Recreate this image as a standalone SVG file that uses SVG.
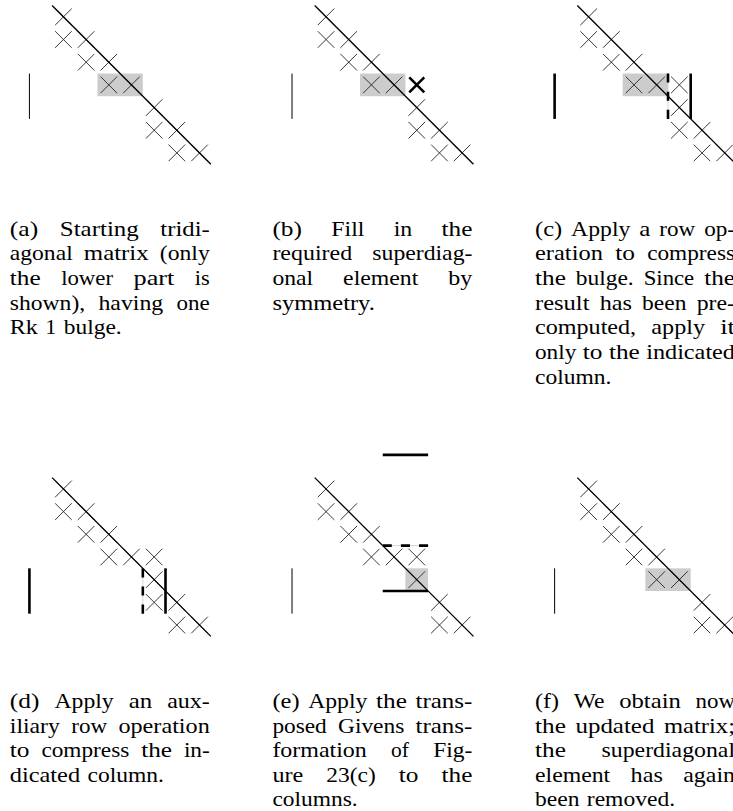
<svg xmlns="http://www.w3.org/2000/svg" xmlns:xlink="http://www.w3.org/1999/xlink" width="733" height="811" viewBox="0 0 733 811">
<style>
.x{fill:none;stroke:#222;stroke-width:0.9}
.xb{fill:none;stroke:#000;stroke-width:2.6}
.diag{stroke:#000;stroke-width:1.3}
.thin{stroke:#000;stroke-width:1}
.thick{stroke:#000;stroke-width:2.6}
.dash{stroke:#000;stroke-width:2.6;stroke-dasharray:9.072 9.072}
.guide{stroke:#d4d4d4;stroke-width:1}
.shade{fill:#cccccc}
text{font-family:"Liberation Serif","Times New Roman",serif;font-size:22px;fill:#000}
</style>
<defs>
<path id="x" class="x" d="M-8.3,-8.3L8.3,8.3M-8.3,8.3L8.3,-8.3"/>
<path id="xb" class="xb" d="M-7.5,-7.5L7.5,7.5M-7.5,7.5L7.5,-7.5"/>
</defs>

<g id="panel-a" transform="translate(52.1,5.5)">
<rect class="shade" x="45.36" y="68.04" width="45.36" height="22.68"/>
<use href="#x" x="11.34" y="11.34"/>
<use href="#x" x="11.34" y="34.02"/><use href="#x" x="34.02" y="34.02"/>
<use href="#x" x="34.02" y="56.7"/><use href="#x" x="56.7" y="56.7"/>
<use href="#x" x="56.7" y="79.38"/><use href="#x" x="79.38" y="79.38"/>
<use href="#x" x="102.06" y="102.06"/>
<use href="#x" x="102.06" y="124.74"/><use href="#x" x="124.74" y="124.74"/>
<use href="#x" x="124.74" y="147.42"/><use href="#x" x="147.42" y="147.42"/>
</g>
<g id="panel-b" transform="translate(314.7,5.5)">
<rect class="shade" x="45.36" y="68.04" width="45.36" height="22.68"/>
<use href="#x" x="11.34" y="11.34"/>
<use href="#x" x="11.34" y="34.02"/><use href="#x" x="34.02" y="34.02"/>
<use href="#x" x="34.02" y="56.7"/><use href="#x" x="56.7" y="56.7"/>
<use href="#x" x="56.7" y="79.38"/><use href="#x" x="79.38" y="79.38"/>
<use href="#xb" x="102.06" y="79.38"/>
<use href="#x" x="102.06" y="102.06"/>
<use href="#x" x="102.06" y="124.74"/><use href="#x" x="124.74" y="124.74"/>
<use href="#x" x="124.74" y="147.42"/><use href="#x" x="147.42" y="147.42"/>
</g>
<g id="panel-c" transform="translate(577.3,5.5)">
<rect class="shade" x="45.36" y="68.04" width="45.36" height="22.68"/>
<use href="#x" x="11.34" y="11.34"/>
<use href="#x" x="11.34" y="34.02"/><use href="#x" x="34.02" y="34.02"/>
<use href="#x" x="34.02" y="56.7"/><use href="#x" x="56.7" y="56.7"/>
<use href="#x" x="56.7" y="79.38"/><use href="#x" x="79.38" y="79.38"/><use href="#x" x="102.06" y="79.38"/>
<use href="#x" x="102.06" y="102.06"/>
<use href="#x" x="102.06" y="124.74"/><use href="#x" x="124.74" y="124.74"/>
<use href="#x" x="124.74" y="147.42"/><use href="#x" x="147.42" y="147.42"/>
</g>
<g id="panel-d" transform="translate(52.1,477.6)">
<use href="#x" x="11.34" y="11.34"/>
<use href="#x" x="11.34" y="34.02"/><use href="#x" x="34.02" y="34.02"/>
<use href="#x" x="34.02" y="56.7"/><use href="#x" x="56.7" y="56.7"/>
<use href="#x" x="56.7" y="79.38"/><use href="#x" x="79.38" y="79.38"/><use href="#x" x="102.06" y="79.38"/>
<use href="#x" x="102.06" y="102.06"/>
<use href="#x" x="102.06" y="124.74"/><use href="#x" x="124.74" y="124.74"/>
<use href="#x" x="124.74" y="147.42"/><use href="#x" x="147.42" y="147.42"/>
</g>
<g id="panel-e" transform="translate(314.7,477.6)">
<rect class="shade" x="90.72" y="90.72" width="22.68" height="22.68"/>
<use href="#x" x="11.34" y="11.34"/>
<use href="#x" x="11.34" y="34.02"/><use href="#x" x="34.02" y="34.02"/>
<use href="#x" x="34.02" y="56.7"/><use href="#x" x="56.7" y="56.7"/>
<use href="#x" x="56.7" y="79.38"/><use href="#x" x="79.38" y="79.38"/><use href="#x" x="102.06" y="79.38"/>
<use href="#x" x="102.06" y="102.06"/>
<use href="#x" x="124.74" y="124.74"/>
<use href="#x" x="124.74" y="147.42"/><use href="#x" x="147.42" y="147.42"/>
</g>
<g id="panel-f" transform="translate(577.3,477.6)">
<rect class="shade" x="68.04" y="90.72" width="45.36" height="22.68"/>
<use href="#x" x="11.34" y="11.34"/>
<use href="#x" x="11.34" y="34.02"/><use href="#x" x="34.02" y="34.02"/>
<use href="#x" x="34.02" y="56.7"/><use href="#x" x="56.7" y="56.7"/>
<use href="#x" x="56.7" y="79.38"/><use href="#x" x="79.38" y="79.38"/>
<use href="#x" x="79.38" y="102.06"/><use href="#x" x="102.06" y="102.06"/>
<use href="#x" x="124.74" y="124.74"/>
<use href="#x" x="124.74" y="147.42"/><use href="#x" x="147.42" y="147.42"/>
</g>

<g id="connectors">
<g transform="translate(52.1,5.5)">
<line class="diag" x1="0" y1="0" x2="158.76" y2="158.76"/>
<line class="thin" x1="-22.68" y1="68.04" x2="-22.68" y2="113.4"/>
</g>
<g transform="translate(314.7,5.5)">
<line class="diag" x1="0" y1="0" x2="158.76" y2="158.76"/>
<line class="thin" x1="-22.68" y1="68.04" x2="-22.68" y2="113.4"/>
</g>
<g transform="translate(577.3,5.5)">
<line class="diag" x1="0" y1="0" x2="158.76" y2="158.76"/>
<line class="thick" x1="-22.68" y1="68.04" x2="-22.68" y2="113.4"/>
<line class="guide" x1="90.72" y1="68.04" x2="90.72" y2="113.4"/>
<line class="dash" x1="90.72" y1="68.04" x2="90.72" y2="113.4"/>
<line class="thick" x1="113.4" y1="68.04" x2="113.4" y2="113.4"/>
</g>
<g transform="translate(52.1,477.6)">
<line class="diag" x1="0" y1="0" x2="158.76" y2="158.76"/>
<line class="thick" x1="-22.68" y1="90.72" x2="-22.68" y2="136.08"/>
<line class="guide" x1="90.72" y1="90.72" x2="90.72" y2="136.08"/>
<line class="dash" x1="90.72" y1="90.72" x2="90.72" y2="136.08"/>
<line class="thick" x1="113.4" y1="90.72" x2="113.4" y2="136.08"/>
</g>
<g transform="translate(314.7,477.6)">
<line class="diag" x1="0" y1="0" x2="158.76" y2="158.76"/>
<line class="thin" x1="-22.68" y1="90.72" x2="-22.68" y2="136.08"/>
<line class="thick" x1="68.04" y1="-22.68" x2="113.4" y2="-22.68"/>
<line class="guide" x1="68.04" y1="68.04" x2="113.4" y2="68.04"/>
<line class="dash" x1="68.04" y1="68.04" x2="113.4" y2="68.04"/>
<line class="thick" x1="68.04" y1="113.4" x2="113.4" y2="113.4"/>
</g>
<g transform="translate(577.3,477.6)">
<line class="diag" x1="0" y1="0" x2="158.76" y2="158.76"/>
<line class="thin" x1="-22.68" y1="90.72" x2="-22.68" y2="136.08"/>
</g>
</g>

<g id="caption-a" lengthAdjust="spacingAndGlyphs">
<text x="9.8" y="235.5" textLength="28.37" lengthAdjust="spacingAndGlyphs">(a)</text>
<text x="59.76" y="235.5" textLength="79.03" lengthAdjust="spacingAndGlyphs">Starting</text>
<text x="160.38" y="235.5" textLength="49.42" lengthAdjust="spacingAndGlyphs">tridi-</text>
<text x="9.8" y="260.2" textLength="62.91" lengthAdjust="spacingAndGlyphs">agonal</text>
<text x="83.86" y="260.2" textLength="64.82" lengthAdjust="spacingAndGlyphs">matrix</text>
<text x="159.83" y="260.2" textLength="49.97" lengthAdjust="spacingAndGlyphs">(only</text>
<text x="9.8" y="284.9" textLength="30.84" lengthAdjust="spacingAndGlyphs">the</text>
<text x="61.17" y="284.9" textLength="51.86" lengthAdjust="spacingAndGlyphs">lower</text>
<text x="133.56" y="284.9" textLength="40.78" lengthAdjust="spacingAndGlyphs">part</text>
<text x="194.87" y="284.9" textLength="14.92" lengthAdjust="spacingAndGlyphs">is</text>
<text x="9.8" y="309.6" textLength="75.37" lengthAdjust="spacingAndGlyphs">shown),</text>
<text x="98.45" y="309.6" textLength="64.78" lengthAdjust="spacingAndGlyphs">having</text>
<text x="176.51" y="309.6" textLength="33.3" lengthAdjust="spacingAndGlyphs">one</text>
<text x="9.8" y="334.3" textLength="28.06" lengthAdjust="spacingAndGlyphs">Rk</text>
<text x="45.26" y="334.3" textLength="11.1" lengthAdjust="spacingAndGlyphs">1</text>
<text x="63.76" y="334.3" textLength="57.99" lengthAdjust="spacingAndGlyphs">bulge.</text>
</g>

<g id="caption-b">
<text x="272.4" y="235.5" textLength="29.61" lengthAdjust="spacingAndGlyphs">(b)</text>
<text x="331.35" y="235.5" textLength="33.01" lengthAdjust="spacingAndGlyphs">Fill</text>
<text x="393.7" y="235.5" textLength="18.51" lengthAdjust="spacingAndGlyphs">in</text>
<text x="441.55" y="235.5" textLength="30.84" lengthAdjust="spacingAndGlyphs">the</text>
<text x="272.4" y="260.2" textLength="79.7" lengthAdjust="spacingAndGlyphs">required</text>
<text x="372.3" y="260.2" textLength="100.1" lengthAdjust="spacingAndGlyphs">superdiag-</text>
<text x="272.4" y="284.9" textLength="40.71" lengthAdjust="spacingAndGlyphs">onal</text>
<text x="343.12" y="284.9" textLength="75.21" lengthAdjust="spacingAndGlyphs">element</text>
<text x="448.34" y="284.9" textLength="24.06" lengthAdjust="spacingAndGlyphs">by</text>
<text x="272.4" y="309.6" textLength="102.5" lengthAdjust="spacingAndGlyphs">symmetry.</text>
</g>

<g id="caption-c">
<text x="535" y="235.5" textLength="27.13" lengthAdjust="spacingAndGlyphs">(c)</text>
<text x="571.1" y="235.5" textLength="59.23" lengthAdjust="spacingAndGlyphs">Apply</text>
<text x="639.3" y="235.5" textLength="11.1" lengthAdjust="spacingAndGlyphs">a</text>
<text x="659.37" y="235.5" textLength="35.83" lengthAdjust="spacingAndGlyphs">row</text>
<text x="704.17" y="235.5" textLength="30.84" lengthAdjust="spacingAndGlyphs">op-</text>
<text x="535" y="260.2" textLength="67.91" lengthAdjust="spacingAndGlyphs">eration</text>
<text x="615.16" y="260.2" textLength="19.74" lengthAdjust="spacingAndGlyphs">to</text>
<text x="647.15" y="260.2" textLength="87.85" lengthAdjust="spacingAndGlyphs">compress</text>
<text x="535" y="284.9" textLength="30.84" lengthAdjust="spacingAndGlyphs">the</text>
<text x="575.76" y="284.9" textLength="57.99" lengthAdjust="spacingAndGlyphs">bulge.</text>
<text x="643.67" y="284.9" textLength="50.57" lengthAdjust="spacingAndGlyphs">Since</text>
<text x="704.16" y="284.9" textLength="30.84" lengthAdjust="spacingAndGlyphs">the</text>
<text x="535" y="309.6" textLength="54.46" lengthAdjust="spacingAndGlyphs">result</text>
<text x="599.68" y="309.6" textLength="32.19" lengthAdjust="spacingAndGlyphs">has</text>
<text x="642.09" y="309.6" textLength="44.4" lengthAdjust="spacingAndGlyphs">been</text>
<text x="696.71" y="309.6" textLength="38.3" lengthAdjust="spacingAndGlyphs">pre-</text>
<text x="535" y="334.3" textLength="101.14" lengthAdjust="spacingAndGlyphs">computed,</text>
<text x="651.33" y="334.3" textLength="53.68" lengthAdjust="spacingAndGlyphs">apply</text>
<text x="720.2" y="334.3" textLength="14.81" lengthAdjust="spacingAndGlyphs">it</text>
<text x="535" y="359" textLength="41.34" lengthAdjust="spacingAndGlyphs">only</text>
<text x="582.76" y="359" textLength="19.74" lengthAdjust="spacingAndGlyphs">to</text>
<text x="608.92" y="359" textLength="30.84" lengthAdjust="spacingAndGlyphs">the</text>
<text x="646.18" y="359" textLength="88.82" lengthAdjust="spacingAndGlyphs">indicated</text>
<text x="535" y="383.7" textLength="76.48" lengthAdjust="spacingAndGlyphs">column.</text>
</g>

<g id="caption-d">
<text x="9.8" y="708" textLength="29.61" lengthAdjust="spacingAndGlyphs">(d)</text>
<text x="54.46" y="708" textLength="59.23" lengthAdjust="spacingAndGlyphs">Apply</text>
<text x="128.74" y="708" textLength="23.44" lengthAdjust="spacingAndGlyphs">an</text>
<text x="167.23" y="708" textLength="42.56" lengthAdjust="spacingAndGlyphs">aux-</text>
<text x="9.8" y="732.6" textLength="50.04" lengthAdjust="spacingAndGlyphs">iliary</text>
<text x="71.23" y="732.6" textLength="35.83" lengthAdjust="spacingAndGlyphs">row</text>
<text x="118.45" y="732.6" textLength="91.35" lengthAdjust="spacingAndGlyphs">operation</text>
<text x="9.8" y="757.2" textLength="19.74" lengthAdjust="spacingAndGlyphs">to</text>
<text x="41.43" y="757.2" textLength="87.85" lengthAdjust="spacingAndGlyphs">compress</text>
<text x="141.17" y="757.2" textLength="30.84" lengthAdjust="spacingAndGlyphs">the</text>
<text x="183.9" y="757.2" textLength="25.91" lengthAdjust="spacingAndGlyphs">in-</text>
<text x="9.8" y="781.8" textLength="70.31" lengthAdjust="spacingAndGlyphs">dicated</text>
<text x="87.5" y="781.8" textLength="76.48" lengthAdjust="spacingAndGlyphs">column.</text>
</g>

<g id="caption-e">
<text x="272.4" y="708" textLength="27.13" lengthAdjust="spacingAndGlyphs">(e)</text>
<text x="308.16" y="708" textLength="59.23" lengthAdjust="spacingAndGlyphs">Apply</text>
<text x="376.02" y="708" textLength="30.84" lengthAdjust="spacingAndGlyphs">the</text>
<text x="415.49" y="708" textLength="56.92" lengthAdjust="spacingAndGlyphs">trans-</text>
<text x="272.4" y="732.6" textLength="54.39" lengthAdjust="spacingAndGlyphs">posed</text>
<text x="338" y="732.6" textLength="66.27" lengthAdjust="spacingAndGlyphs">Givens</text>
<text x="415.48" y="732.6" textLength="56.92" lengthAdjust="spacingAndGlyphs">trans-</text>
<text x="272.4" y="757.2" textLength="94.44" lengthAdjust="spacingAndGlyphs">formation</text>
<text x="391.1" y="757.2" textLength="17.89" lengthAdjust="spacingAndGlyphs">of</text>
<text x="433.25" y="757.2" textLength="39.16" lengthAdjust="spacingAndGlyphs">Fig-</text>
<text x="272.4" y="781.8" textLength="30.9" lengthAdjust="spacingAndGlyphs">ure</text>
<text x="326.36" y="781.8" textLength="49.33" lengthAdjust="spacingAndGlyphs">23(c)</text>
<text x="398.75" y="781.8" textLength="19.74" lengthAdjust="spacingAndGlyphs">to</text>
<text x="441.55" y="781.8" textLength="30.84" lengthAdjust="spacingAndGlyphs">the</text>
<text x="272.4" y="806.4" textLength="85.23" lengthAdjust="spacingAndGlyphs">columns.</text>
</g>

<g id="caption-f">
<text x="535" y="708" textLength="24.06" lengthAdjust="spacingAndGlyphs">(f)</text>
<text x="573.71" y="708" textLength="30.84" lengthAdjust="spacingAndGlyphs">We</text>
<text x="619.2" y="708" textLength="61.69" lengthAdjust="spacingAndGlyphs">obtain</text>
<text x="695.54" y="708" textLength="39.47" lengthAdjust="spacingAndGlyphs">now</text>
<text x="535" y="732.6" textLength="30.84" lengthAdjust="spacingAndGlyphs">the</text>
<text x="575.44" y="732.6" textLength="78.97" lengthAdjust="spacingAndGlyphs">updated</text>
<text x="664.01" y="732.6" textLength="71" lengthAdjust="spacingAndGlyphs">matrix;</text>
<text x="535" y="757.2" textLength="30.84" lengthAdjust="spacingAndGlyphs">the</text>
<text x="601.58" y="757.2" textLength="133.42" lengthAdjust="spacingAndGlyphs">superdiagonal</text>
<text x="535" y="781.8" textLength="75.21" lengthAdjust="spacingAndGlyphs">element</text>
<text x="630.61" y="781.8" textLength="32.19" lengthAdjust="spacingAndGlyphs">has</text>
<text x="683.2" y="781.8" textLength="51.81" lengthAdjust="spacingAndGlyphs">again</text>
<text x="535" y="806.4" textLength="44.4" lengthAdjust="spacingAndGlyphs">been</text>
<text x="586.8" y="806.4" textLength="88.25" lengthAdjust="spacingAndGlyphs">removed.</text>
</g>
</svg>
